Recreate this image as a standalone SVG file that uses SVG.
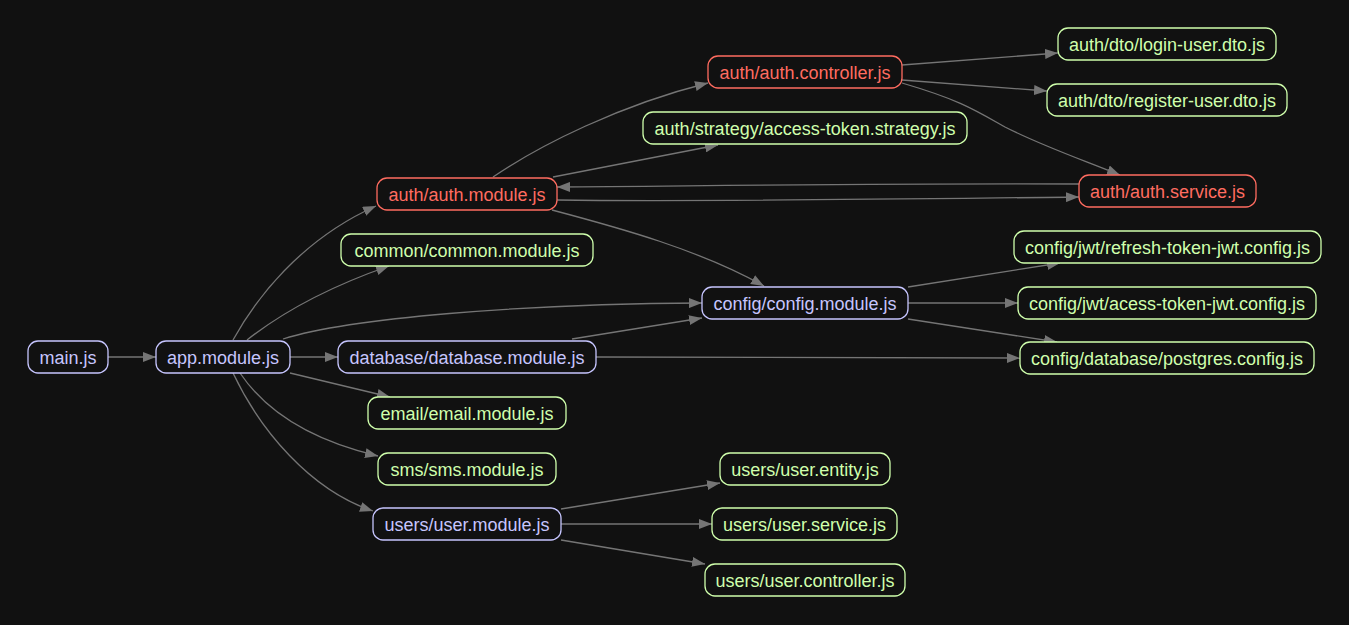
<svg xmlns="http://www.w3.org/2000/svg" width="1349" height="625" viewBox="0 0 1349 625">
<style>
.n rect{fill:#111111;stroke-width:1.3}
.n text{font-family:"Liberation Sans",Arial,sans-serif;font-size:18px;text-anchor:middle}
.b rect{stroke:#c6c5fe}.b text{fill:#c6c5fe}
.g rect{stroke:#cfffac}.g text{fill:#cfffac}
.r rect{stroke:#ff6c60}.r text{fill:#ff6c60}
#edges path{fill:none;stroke:#757575;stroke-width:1.3;marker-end:url(#ah)}
</style>
<defs>
<marker id="ah" markerUnits="userSpaceOnUse" markerWidth="14" markerHeight="10" refX="13" refY="5" orient="auto">
<path d="M0,0 L13,5 L0,10 z" fill="#757575"/>
</marker>
</defs>
<rect width="1349" height="625" fill="#111111"/>
<g id="edges">
<path d="M108,357 L156,357"/>
<path d="M233,340 C255,300 300,240 376,206"/>
<path d="M247,340 C275,318 320,290 389,266"/>
<path d="M283,339 C350,318 520,304 702,303"/>
<path d="M290,357 L338,357"/>
<path d="M290,373 L390,397"/>
<path d="M240,373 C265,410 310,440 378,456"/>
<path d="M233,373 C260,430 310,490 373,511"/>
<path d="M493,177 C540,145 620,105 708,83"/>
<path d="M553,177 L718,145"/>
<path d="M1079,184 C900,183 700,186 557,187"/>
<path d="M557,200 C700,202 900,199 1079,197"/>
<path d="M552,210 C620,228 700,250 764,286"/>
<path d="M902,65 L1058,53"/>
<path d="M902,80 L1047,91"/>
<path d="M902,83 C960,100 975,110 1005,127 C1040,145 1075,157 1120,175"/>
<path d="M572,339 L702,318"/>
<path d="M596,357 L1020,358"/>
<path d="M908,287 L1060,263"/>
<path d="M908,303 L1018,303"/>
<path d="M908,319 L1057,342"/>
<path d="M561,509 L720,483"/>
<path d="M561,524 L712,524"/>
<path d="M561,540 L705,564"/>
</g>
<g id="main" class="n b"><rect x="28" y="341" width="80" height="32" rx="10"/><text x="68" y="363.5">main.js</text></g>
<g id="app" class="n b"><rect x="156" y="341" width="134" height="32" rx="10"/><text x="223" y="363.5">app.module.js</text></g>
<g id="auth_module" class="n r"><rect x="377" y="178" width="180" height="32" rx="10"/><text x="467" y="200.5">auth/auth.module.js</text></g>
<g id="common_module" class="n g"><rect x="341" y="234" width="252" height="32" rx="10"/><text x="467" y="256.5">common/common.module.js</text></g>
<g id="database_module" class="n b"><rect x="338" y="341" width="258" height="32" rx="10"/><text x="467" y="363.5">database/database.module.js</text></g>
<g id="email_module" class="n g"><rect x="368" y="397" width="198" height="32" rx="10"/><text x="467" y="419.5">email/email.module.js</text></g>
<g id="sms_module" class="n g"><rect x="378" y="453" width="178" height="32" rx="10"/><text x="467" y="475.5">sms/sms.module.js</text></g>
<g id="user_module" class="n b"><rect x="373" y="508" width="188" height="32" rx="10"/><text x="467" y="530.5">users/user.module.js</text></g>
<g id="auth_controller" class="n r"><rect x="708" y="56" width="194" height="32" rx="10"/><text x="805" y="78.5">auth/auth.controller.js</text></g>
<g id="access_strategy" class="n g"><rect x="643" y="112" width="324" height="32" rx="10"/><text x="805" y="134.5">auth/strategy/access-token.strategy.js</text></g>
<g id="config_module" class="n b"><rect x="702" y="287" width="206" height="32" rx="10"/><text x="805" y="309.5">config/config.module.js</text></g>
<g id="user_entity" class="n g"><rect x="720" y="453" width="170" height="32" rx="10"/><text x="805" y="475.5">users/user.entity.js</text></g>
<g id="user_service" class="n g"><rect x="712" y="508" width="185" height="32" rx="10"/><text x="804.5" y="530.5">users/user.service.js</text></g>
<g id="user_controller" class="n g"><rect x="705" y="564" width="200" height="32" rx="10"/><text x="805" y="586.5">users/user.controller.js</text></g>
<g id="login_dto" class="n g"><rect x="1058" y="28" width="218" height="32" rx="10"/><text x="1167" y="50.5">auth/dto/login-user.dto.js</text></g>
<g id="register_dto" class="n g"><rect x="1047" y="84" width="240" height="32" rx="10"/><text x="1167" y="106.5">auth/dto/register-user.dto.js</text></g>
<g id="auth_service" class="n r"><rect x="1079" y="175" width="177" height="32" rx="10"/><text x="1167.5" y="197.5">auth/auth.service.js</text></g>
<g id="refresh_config" class="n g"><rect x="1014" y="231" width="307" height="32" rx="10"/><text x="1167.5" y="253.5">config/jwt/refresh-token-jwt.config.js</text></g>
<g id="acess_config" class="n g"><rect x="1018" y="287" width="298" height="32" rx="10"/><text x="1167" y="309.5">config/jwt/acess-token-jwt.config.js</text></g>
<g id="postgres_config" class="n g"><rect x="1020" y="342" width="294" height="32" rx="10"/><text x="1167" y="364.5">config/database/postgres.config.js</text></g>
</svg>
